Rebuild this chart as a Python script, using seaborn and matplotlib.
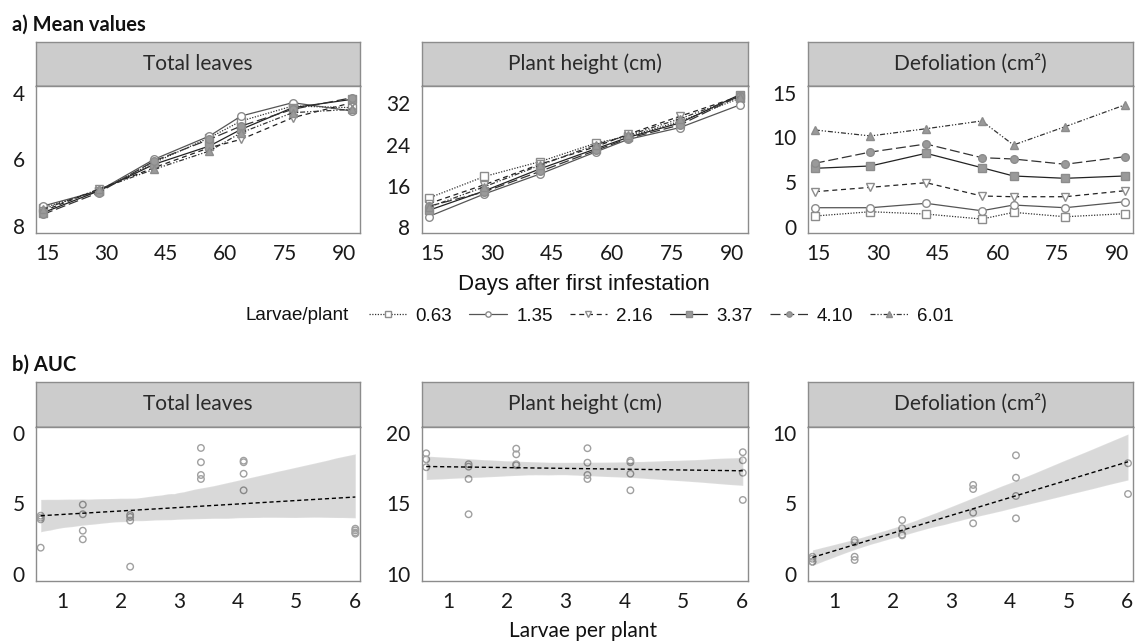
import matplotlib
matplotlib.use("Agg")
import matplotlib.pyplot as plt
import seaborn as sns
import numpy as np
import pandas as pd

# ---------------- data ----------------
days = [14, 28, 42, 56, 64, 77, 92]
larvae_levels = ["0.63", "1.35", "2.16", "3.37", "4.10", "6.01"]

# a) mean values per larvae level
total_leaves = {
    "0.63": [10.2, 12.2, 15.6, 18.6, 20.6, 22.4, 22.2],
    "1.35": [10.4, 12.2, 16.0, 18.8, 21.2, 22.8, 21.8],
    "2.16": [9.8, 12.4, 15.0, 17.4, 18.4, 21.0, 22.8],
    "3.37": [9.6, 12.2, 15.4, 17.6, 19.6, 22.2, 23.2],
    "4.10": [9.4, 12.0, 15.8, 18.4, 20.0, 22.0, 23.4],
    "6.01": [10.0, 12.4, 14.8, 17.0, 19.2, 21.6, 22.0],
}
plant_height = {
    "0.63": [13.6, 17.8, 20.7, 24.3, 25.6, 28.5, 33.0],
    "1.35": [10.0, 14.4, 18.3, 22.6, 25.0, 27.3, 31.7],
    "2.16": [12.5, 16.2, 20.2, 23.6, 26.0, 29.5, 33.4],
    "3.37": [11.2, 15.0, 19.3, 23.2, 25.4, 28.2, 33.7],
    "4.10": [12.0, 14.8, 18.8, 22.9, 25.2, 27.8, 33.5],
    "6.01": [11.8, 15.8, 20.0, 24.0, 25.8, 29.0, 33.3],
}
defoliation = {
    "0.63": [1.20, 1.68, 1.42, 0.86, 1.61, 1.12, 1.46],
    "1.35": [2.13, 2.13, 2.62, 1.79, 2.43, 2.13, 2.80],
    "2.16": [3.92, 4.41, 4.93, 3.44, 3.36, 3.36, 4.03],
    "3.37": [6.54, 6.80, 8.22, 6.61, 5.68, 5.42, 5.68],
    "4.10": [7.10, 8.36, 9.26, 7.73, 7.58, 6.99, 7.84],
    "6.01": [10.83, 10.16, 10.97, 11.84, 9.15, 11.20, 13.63],
}

# b) AUC observations
auc_tl_x = [0.63] * 4 + [1.35] * 4 + [2.16] * 4 + [3.37] * 4 + [4.10] * 4 + [6.01] * 4
auc_tl_y = [4.14, 4.00, 3.88, 1.88,
            4.92, 4.24, 3.08, 2.47,
            4.19, 4.05, 3.79, 0.54,
            8.92, 7.91, 7.01, 6.73,
            8.02, 7.91, 7.10, 5.93,
            3.22, 3.10, 2.95, 2.87]

auc_ph_x = [0.63] * 3 + [1.35] * 4 + [2.16] * 4 + [3.37] * 4 + [4.10] * 4 + [6.01] * 4
auc_ph_y = [18.54, 18.12, 17.56,
            17.77, 17.60, 16.73, 14.24,
            18.87, 18.47, 17.77, 17.70,
            18.90, 17.88, 17.01, 16.73,
            18.02, 17.91, 17.10, 15.93,
            18.62, 18.05, 17.17, 15.25]

auc_df_x = [0.63] * 4 + [1.35] * 4 + [2.16] * 4 + [3.37] * 4 + [4.10] * 4 + [6.01] * 2
auc_df_y = [1.24, 1.10, 0.89, 0.89,
            2.42, 2.26, 1.24, 1.01,
            3.83, 3.25, 2.80, 2.75,
            6.31, 6.02, 4.35, 3.60,
            8.40, 6.82, 5.53, 3.95,
            7.84, 5.67]

panel_titles = ["Total leaves", "Plant height (cm)", "Defoliation (cm²)"]

# ---------------- style ----------------
sns.set_style("white")
plt.rcParams["font.family"] = ["Lato", "DejaVu Sans"]

W, H = 1135, 643
fig = plt.figure(figsize=(W / 100, H / 100), dpi=100)


def rect(l, t, r, b):
    return [l / W, 1 - b / H, (r - l) / W, (b - t) / H]


cols = [(36, 360), (421.5, 747.5), (807.7, 1132.7)]
SPINE = "#8c8c8c"
TICKFS = 15


def style_axes(ax):
    for s in ax.spines.values():
        s.set_color(SPINE)
        s.set_linewidth(1.0)
        s.set_visible(True)
    ax.tick_params(axis="both", direction="out", length=5, width=1,
                   color=SPINE, labelsize=TICKFS, labelcolor="#1a1a1a", pad=3)
    ax.set_xlabel("")
    ax.set_ylabel("")


def add_strip(l, r, t, b, text):
    sax = fig.add_axes(rect(l, t, r, b))
    sax.set_facecolor("#cccccc")
    sax.set_xticks([])
    sax.set_yticks([])
    for s in sax.spines.values():
        s.set_color(SPINE)
        s.set_linewidth(1.0)
    sax.spines["bottom"].set_color("#333333")
    sax.text(0.5, 0.5, text, ha="center", va="center", fontsize=15,
             color="#2a2a2a", transform=sax.transAxes)


series_style = {
    "0.63": dict(marker="s", ls=(0, (1, 1.2)), lc="#333333", fill="white"),
    "1.35": dict(marker="o", ls="-", lc="#555555", fill="white"),
    "2.16": dict(marker="v", ls=(0, (4, 3)), lc="#222222", fill="white"),
    "3.37": dict(marker="s", ls="-", lc="#222222", fill="#9a9a9a"),
    "4.10": dict(marker="o", ls=(0, (8, 3)), lc="#333333", fill="#9a9a9a"),
    "6.01": dict(marker="^", ls=(0, (4, 1.5, 1, 1.5, 1, 1.5)), lc="#333333", fill="#9a9a9a"),
}

top_data = [total_leaves, plant_height, defoliation]
top_ylims = [(7.16, 24.8), (6.8, 35.4), (-0.7, 15.75)]
top_yticks = [[8, 16, 24], [8, 16, 24, 32], [0, 5, 10, 15]]
top_yticklabels = [["8", "6", "4"], ["8", "16", "24", "32"], ["0", "5", "10", "15"]]

top_axes = []
for i, (l, r) in enumerate(cols):
    add_strip(l, r, 42, 86, panel_titles[i])
    ax = fig.add_axes(rect(l, 86, r, 233))
    for lev in larvae_levels:
        st = series_style[lev]
        sns.lineplot(x=days, y=top_data[i][lev], ax=ax, legend=False,
                     color=st["lc"], linestyle=st["ls"], linewidth=0.9,
                     marker=st["marker"], markersize=5.5,
                     markerfacecolor=st["fill"], markeredgecolor="#8c8c8c",
                     markeredgewidth=1.0, label=lev)
    ax.set_xlim(12.2, 94)
    ax.set_ylim(*top_ylims[i])
    ax.set_xticks([15, 30, 45, 60, 75, 90])
    ax.set_yticks(top_yticks[i])
    ax.set_yticklabels(top_yticklabels[i])
    style_axes(ax)
    top_axes.append(ax)

# bottom row
bot_x = [auc_tl_x, auc_ph_x, auc_df_x]
bot_y = [auc_tl_y, auc_ph_y, auc_df_y]
bot_ylims = [(-0.45, 10.42), (9.55, 20.42), (-0.45, 10.42)]
bot_yticks = [[0, 5, 10], [10, 15, 20], [0, 5, 10]]
bot_yticklabels = [["0", "5", "0"], ["10", "15", "20"], ["0", "5", "10"]]

for i, (l, r) in enumerate(cols):
    add_strip(l, r, 381.7, 426.7, panel_titles[i])
    ax = fig.add_axes(rect(l, 426.7, r, 580.7))
    sns.regplot(x=bot_x[i], y=bot_y[i], ax=ax, ci=95, seed=0, color="black",
                scatter_kws=dict(s=22, facecolors="none", edgecolors="#a0a0a0",
                                 linewidths=1.0, alpha=1),
                line_kws=dict(color="black", linestyle=(0, (3, 2)), linewidth=1.0))
    ax.set_xlim(0.55, 6.09)
    ax.set_ylim(*bot_ylims[i])
    ax.set_xticks([1, 2, 3, 4, 5, 6])
    ax.set_yticks(bot_yticks[i])
    ax.set_yticklabels(bot_yticklabels[i])
    style_axes(ax)

# titles and labels
fig.text(12 / W, 1 - 25 / H, "a) Mean values", fontsize=14.5, fontweight="bold",
         ha="left", va="center", color="#111111")
fig.text(12 / W, 1 - 365 / H, "b) AUC", fontsize=14.5, fontweight="bold",
         ha="left", va="center", color="#111111")
fig.text(584 / W, 1 - 284 / H, "Days after first infestation", fontsize=16,
         family=["Liberation Sans", "DejaVu Sans"], ha="center", va="center",
         color="#111111")
fig.text(583 / W, 1 - 631 / H, "Larvae per plant", fontsize=15,
         ha="center", va="center", color="#111111")

# legend
handles, labels = top_axes[2].get_legend_handles_labels()
fig.text(297 / W, 1 - 316 / H, "Larvae/plant", fontsize=13.5,
         family=["Liberation Sans", "DejaVu Sans"], ha="center", va="center",
         color="#111111")
leg = fig.legend(handles, labels, ncol=6, loc="center left",
                 bbox_to_anchor=(352 / W, 1 - 316 / H), frameon=False,
                 handlelength=2.0, handletextpad=0.5, columnspacing=0.9,
                 markerscale=0.7,
                 prop={"family": ["Liberation Sans", "DejaVu Sans"], "size": 13.5})
for t in leg.get_texts():
    t.set_color("#111111")

fig.savefig("out.png", dpi=100)
